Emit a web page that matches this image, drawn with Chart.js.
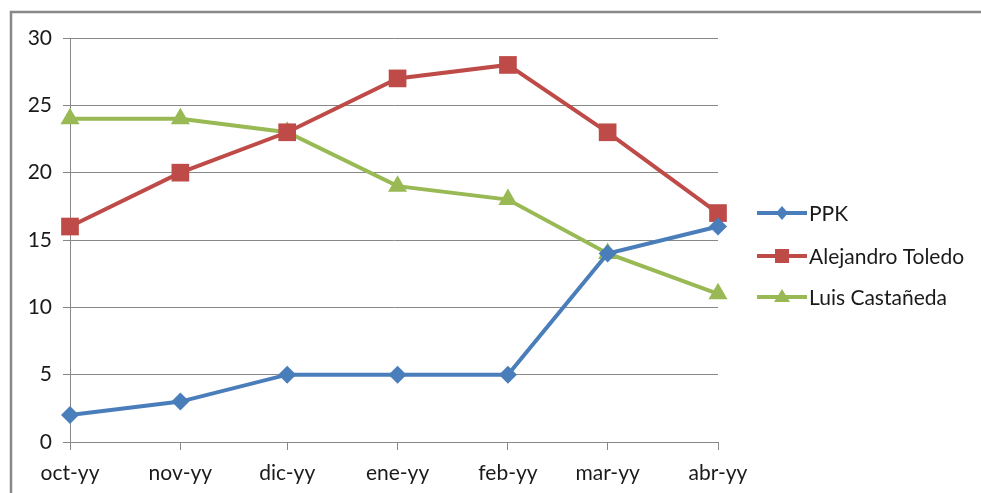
<!DOCTYPE html>
<html><head><meta charset="utf-8">
<script src="https://cdn.jsdelivr.net/npm/chart.js@4/dist/chart.umd.min.js"></script>
<style>html,body{margin:0;padding:0;background:#fff}#wrap{width:981px;height:493px}</style>
</head><body><div id="wrap"><canvas id="c" width="981" height="493"></canvas></div>
<script>
const categories = ['oct-yy','nov-yy','dic-yy','ene-yy','feb-yy','mar-yy','abr-yy'];
// date axis: day offset of the first day of each month from 1 Oct
const dayOffsets = [0,31,61,92,123,151,182];
const seriesNames = ['PPK','Alejandro Toledo','Luis Castañeda'];
const ppk = [2,3,5,5,5,14,16];
const toledo = [16,20,23,27,28,23,17];
const castaneda = [24,24,23,19,18,14,11];
const yTicks = [0,5,10,15,20,25,30];

const colors = ['#4A7EBB','#BE4B48','#98B954'];
const styles = ['rectRot','rect','triangle'];
const radii = [9,12.5,11];
const FONT = 'Lato, "Open Sans", sans-serif';

const frame = {
  id:'frame',
  beforeDraw(chart){
    const c = chart.ctx; c.save();
    c.strokeStyle='#888'; c.lineWidth=2.5;
    c.beginPath(); c.moveTo(11,493); c.lineTo(11,12); c.lineTo(981,12); c.stroke();
    c.restore();
  }
};
const legendPlugin = {
  id:'customLegend',
  afterDraw(chart){
    const c = chart.ctx; c.save();
    const ys=[213,256,297];
    chart.data.datasets.forEach((ds,i)=>{
      const y=ys[i];
      c.strokeStyle=ds.borderColor; c.lineWidth=4;
      c.beginPath(); c.moveTo(757,y); c.lineTo(807,y); c.stroke();
      c.fillStyle=ds.borderColor;
      const cx=782;
      c.beginPath();
      if(i===0){ c.moveTo(cx,y-7); c.lineTo(cx+6,y); c.lineTo(cx,y+7); c.lineTo(cx-6,y); }
      else if(i===1){ c.rect(cx-7,y-7,14,14); }
      else { c.moveTo(cx,y-8); c.lineTo(cx+8,y+5); c.lineTo(cx-8,y+5); }
      c.closePath(); c.fill();
      c.fillStyle='#1a1a1a'; c.font='21px '+FONT; c.textBaseline='middle'; c.textAlign='left';
      c.fillText(ds.label,809,y+1);
    });
    c.restore();
  }
};

const sets=[ppk,toledo,castaneda];
new Chart(document.getElementById('c'),{
  type:'line',
  data:{datasets:sets.map((d,i)=>({
    label:seriesNames[i],data:d.map((v,k)=>({x:dayOffsets[k],y:v})),
    borderColor:colors[i],backgroundColor:colors[i],clip:false,
    borderWidth:4,pointStyle:styles[i],pointRadius:radii[i],pointHoverRadius:radii[i],
    pointBackgroundColor:colors[i],pointBorderColor:colors[i],pointBorderWidth:0,tension:0
  }))},
  options:{
    responsive:false,animation:false,devicePixelRatio:1,
    layout:{padding:{left:0,right:263,top:38,bottom:0}},
    plugins:{legend:{display:false},tooltip:{enabled:false}},
    scales:{
      x:{type:'linear',min:dayOffsets[0],max:dayOffsets[dayOffsets.length-1],
        grid:{display:true,drawOnChartArea:false,drawTicks:true,tickLength:8,color:'#888'},
        border:{color:'#888',width:1},
        afterBuildTicks(s){s.ticks=dayOffsets.map(v=>({value:v}));},
        ticks:{color:'#1a1a1a',font:{family:FONT,size:21},padding:11,maxRotation:0,autoSkip:false,
          callback:(v)=>{const k=dayOffsets.indexOf(v);return k>=0?categories[k]:'';}},
        afterFit(s){s.height=51;}
      },
      y:{min:0,max:30,
        grid:{color:'#888',tickLength:7,drawTicks:true},
        border:{color:'#888',width:1},
        ticks:{stepSize:5,color:'#1a1a1a',font:{family:FONT,size:21},padding:11},
        afterBuildTicks(s){s.ticks=yTicks.map(v=>({value:v}));},
        afterFit(s){s.width=70;}
      }
    }
  },
  plugins:[frame,legendPlugin]
});
</script></body></html>
